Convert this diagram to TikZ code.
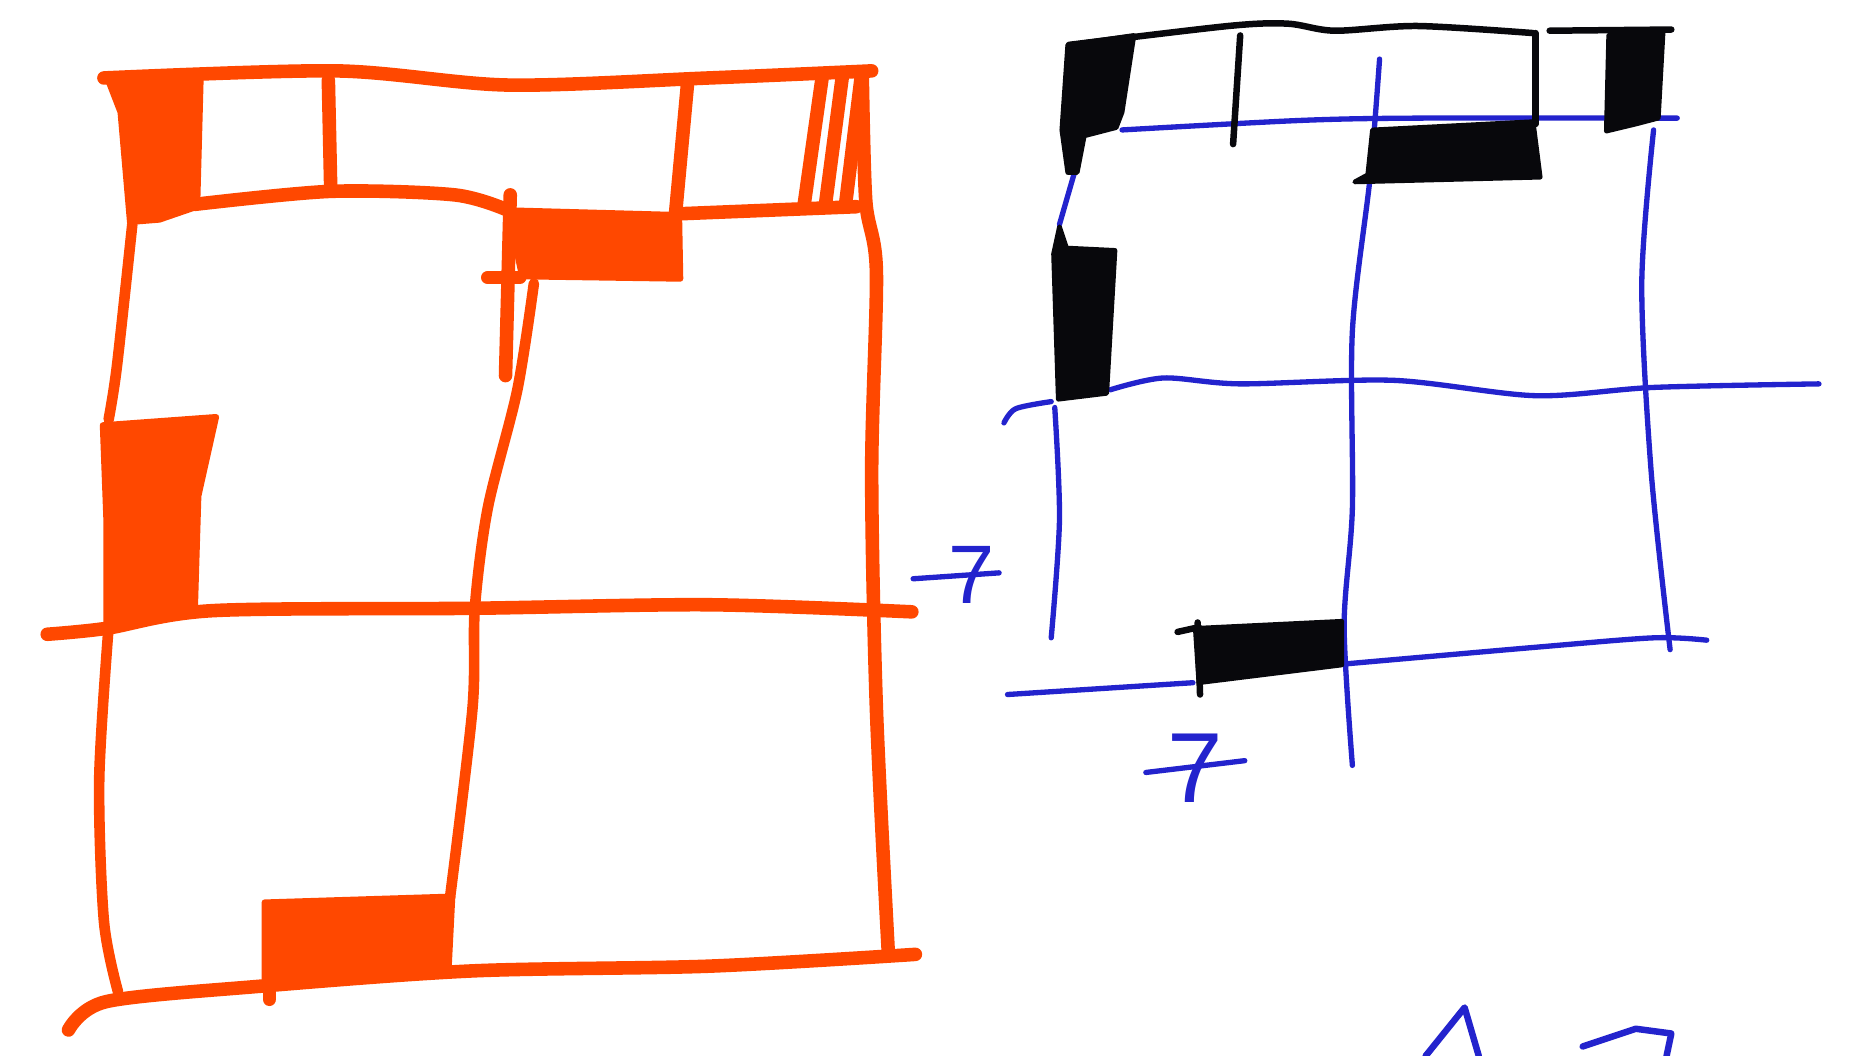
\documentclass[tikz,border=0pt]{standalone}
\usepackage{fontspec}
\setmainfont{Liberation Sans}
\usepackage{xcolor}
\definecolor{sketchorange}{RGB}{255,72,0}
\definecolor{sketchblue}{RGB}{35,35,205}
\definecolor{sketchblack}{RGB}{8,8,12}
\tikzset{
    orangeline/.style={draw=sketchorange,line width=0.23cm,line cap=round,line join=round},
    thinorange/.style={draw=sketchorange,line width=0.18cm,line cap=round,line join=round},
    orangeblock/.style={fill=sketchorange,draw=sketchorange,line width=0.1cm,line join=round},
    blueline/.style={draw=sketchblue,line width=0.09cm,line cap=round,line join=round},
    blackline/.style={draw=sketchblack,line width=0.11cm,line cap=round,line join=round},
    blackblock/.style={fill=sketchblack,draw=sketchblack,line width=0.08cm,line join=round},
    sevenlabel/.style={text=sketchblue,font=\fontsize{40}{40}\selectfont,inner sep=0pt}
}
\begin{document}
\begin{tikzpicture}[x=0.02cm,y=-0.02cm]
    \useasboundingbox[fill=white] (0,0) rectangle (1568,894);
    % left plan
    \draw[orangeline] plot[smooth] coordinates {(88,66) (285,60) (430,72) (600,66) (738,60)};
    \draw[orangeline] plot[smooth] coordinates {(165,173) (280,162) (385,165) (430,178)};
    \draw[orangeline] (575,181) -- (725,175);
    \draw[orangeline] (278,68) -- (280,160);
    \draw[orangeline] (582,72) -- (572,180);
    \foreach \xa/\xb in {681/696,699/713,716/729} {
        \draw[orangeline] (\xa,172) -- (\xb,66);
    }
    \draw[orangeblock] (90,64) -- (170,64) -- (167,175) -- (135,186) -- (110,188) -- (102,95) -- cycle;
    \draw[orangeblock] (430,178) -- (575,182) -- (576,236) -- (442,234) -- cycle;
    \draw[orangeline] (432,165) -- (428,318);
    \draw[orangeline] (413,235) -- (440,235);
    \draw[orangeline] plot[smooth] coordinates {(730,62) (733,170) (742,230) (738,400) (742,600) (752,805)};
    \draw[thinorange] plot[smooth] coordinates {(452,240) (438,330) (413,430) (402,515) (400,600) (381,760)};
    \draw[thinorange] plot[smooth] coordinates {(112,190) (99,310) (92,355)};
    \draw[orangeblock] (87,360) -- (183,353) -- (168,420) -- (165,518) -- (90,528) -- (90,440) -- cycle;
    \draw[orangeline] plot[smooth] coordinates {(40,537) (90,532) (180,517) (400,515) (600,512) (772,518)};
    \draw[thinorange] plot[smooth] coordinates {(92,530) (84,660) (88,780) (100,840)};
    \draw[orangeline] plot[smooth] coordinates {(58,872) (90,848) (220,835) (400,822) (600,818) (775,808)};
    \draw[orangeblock] (224,764) -- (383,759) -- (380,818) -- (240,836) -- (224,833) -- cycle;
    \draw[orangeline] (228,820) -- (228,846);
    % right plan
    \draw[blueline] plot[smooth] coordinates {(950,110) (1100,102) (1200,100) (1420,100)};
    \draw[blueline] plot[smooth] coordinates {(1168,50) (1160,150) (1145,280) (1145,430) (1138,530) (1145,648)};
    \draw[blueline] plot[smooth] coordinates {(1400,110) (1390,240) (1398,400) (1414,550)};
    \draw[blueline] (910,145) -- (897,190);
    \draw[blueline] plot[smooth] coordinates {(893,345) (897,440) (890,540)};
    \draw[blueline] plot[smooth] coordinates {(850,358) (860,346) (890,340)};
    \draw[blueline] plot[smooth] coordinates {(940,330) (985,320) (1050,325) (1180,322) (1300,335) (1400,328) (1540,325)};
    \draw[blueline] (853,588) -- (1010,578);
    \draw[blueline] plot[smooth] coordinates {(1140,562) (1300,548) (1400,540) (1445,542)};
    \draw[blackline] plot[smooth] coordinates {(905,38) (1040,22) (1090,20) (1130,26) (1200,22) (1298,28)};
    \draw[blackline] (1312,26) -- (1415,25);
    \draw[blackline] (1050,30) -- (1044,122);
    \draw[blackline] (1300,28) -- (1300,105);
    \draw[blackblock] (904,38) -- (960,30) -- (950,95) -- (945,108) -- (918,115) -- (912,146) -- (904,146) -- (899,110) -- cycle;
    \draw[blackblock] (1362,30) -- (1408,28) -- (1404,100) -- (1385,105) -- (1360,111) -- cycle;
    \draw[blackblock] (1162,110) -- (1298,103) -- (1304,150) -- (1147,154) -- (1158,148) -- cycle;
    \draw[blackblock] (897,192) -- (903,210) -- (944,212) -- (937,333) -- (896,338) -- (892,215) -- cycle;
    \draw[blackblock] (1012,532) -- (1136,526) -- (1136,563) -- (1015,578) -- cycle;
    \draw[blackline] (997,535) -- (1015,531);
    \draw[blackline] (1014,527) -- (1016,588);
    % the two sevens
    \node[sevenlabel] (sevenright) at (823,487) {7};
    \draw[blueline] (sevenright.west) ++(-30,3) coordinate (barrighta) (sevenright.east) ++(3,-2) coordinate (barrightb);
    \draw[blueline] (barrighta) -- (barrightb);
    \node[sevenlabel,scale=1.2] (sevenbottom) at (1012,650) {7};
    \draw[blueline] (sevenbottom.west) ++(-18,4) coordinate (barbottoma) (sevenbottom.east) ++(18,-6) coordinate (barbottomb);
    \draw[blueline] (barbottoma) -- (barbottomb);
    % strokes cut off by the sheet
    \draw[blueline,line width=0.11cm] (1207,894) -- (1240,853) -- (1252,894);
    \draw[blueline,line width=0.11cm] (1340,886) -- (1385,871) -- (1415,875) -- (1411,894);
\end{tikzpicture}
\end{document}
